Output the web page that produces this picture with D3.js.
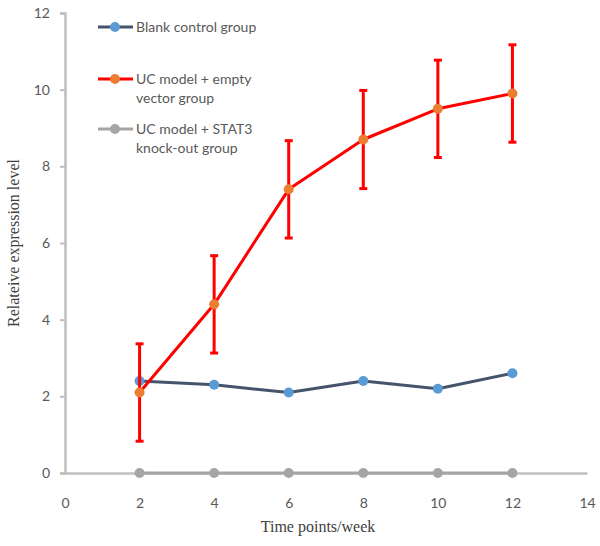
<!DOCTYPE html>
<html><head><meta charset="utf-8">
<script src="https://cdn.jsdelivr.net/npm/d3@7"></script>
<style>body{margin:0;background:#fff}svg{display:block}</style>
</head><body>
<script>
const weeks = [2, 4, 6, 8, 10, 12];
const blankControl = [2.4, 2.3, 2.1, 2.4, 2.2, 2.6];
const ucEmptyVector = [2.1, 4.4, 7.4, 8.7, 9.5, 9.9];
const ucEmptyVectorErr = [1.27, 1.27, 1.27, 1.28, 1.27, 1.27];
const ucStat3Knockout = [0, 0, 0, 0, 0, 0];
const xTicks = [0, 2, 4, 6, 8, 10, 12, 14];
const yTicks = [0, 2, 4, 6, 8, 10, 12];
const seriesNames = ["Blank control group", "UC model + empty vector group", "UC model + STAT3 knock-out group"];

const W = 600, H = 546;
const svg = d3.select("body").append("svg").attr("width", W).attr("height", H);
const x = d3.scaleLinear().domain([0, 14]).range([65, 587]);
const y = d3.scaleLinear().domain([0, 12]).range([473, 13]);

const axisColor = "#BFBFBF", labelColor = "#595959";
const tickFont = "Lato, sans-serif";

// Y axis
const yAx = svg.append("g").attr("transform", `translate(${x(0)},0)`)
  .call(d3.axisLeft(y).tickValues(yTicks).tickSize(5).tickPadding(10));
yAx.select(".domain").attr("stroke", axisColor).attr("stroke-width", 2.5);
yAx.selectAll(".tick line").attr("stroke", axisColor).attr("stroke-width", 2);
yAx.selectAll("text").attr("fill", labelColor).style("font-family", tickFont).style("font-size", "14px");

// X axis
const xAx = svg.append("g").attr("transform", `translate(0,${y(0)})`)
  .call(d3.axisBottom(x).tickValues(xTicks).tickSize(0).tickPadding(25));
xAx.select(".domain").attr("stroke", axisColor).attr("stroke-width", 2.5);
xAx.selectAll("text").attr("fill", labelColor).style("font-family", tickFont).style("font-size", "14px");

// axis titles
svg.append("text").attr("x", 318).attr("y", 532).attr("text-anchor", "middle")
  .style("font-family", "Liberation Serif, serif").style("font-size", "16px").attr("fill", "#404040")
  .text("Time points/week");
svg.append("text").attr("transform", `translate(19,${y(6)}) rotate(-90)`).attr("text-anchor", "middle")
  .style("font-family", "Liberation Serif, serif").style("font-size", "16px").attr("fill", "#404040")
  .text("Relateive expression level");

const line = d3.line().x(d => x(d[0])).y(d => y(d[1]));
const zip = vals => weeks.map((w, i) => [w, vals[i]]);

function drawSeries(vals, lineColor, markerColor) {
  svg.append("path").datum(zip(vals)).attr("d", line).attr("fill", "none")
    .attr("stroke", lineColor).attr("stroke-width", 3).attr("stroke-linejoin", "round");
  svg.append("g").selectAll("circle").data(zip(vals)).join("circle")
    .attr("cx", d => x(d[0])).attr("cy", d => y(d[1])).attr("r", 5).attr("fill", markerColor);
}

// knock-out (gray)
drawSeries(ucStat3Knockout, "#A5A5A5", "#A5A5A5");
// blank control
drawSeries(blankControl, "#44546A", "#5B9BD5");

// error bars for UC model
const eb = svg.append("g").attr("stroke", "#FF0000").attr("stroke-width", 3);
weeks.forEach((w, i) => {
  const v = ucEmptyVector[i], e = ucEmptyVectorErr[i];
  eb.append("line").attr("x1", x(w)).attr("x2", x(w)).attr("y1", y(v + e)).attr("y2", y(v - e));
  eb.append("line").attr("x1", x(w) - 4).attr("x2", x(w) + 4).attr("y1", y(v + e)).attr("y2", y(v + e));
  eb.append("line").attr("x1", x(w) - 4).attr("x2", x(w) + 4).attr("y1", y(v - e)).attr("y2", y(v - e));
});
drawSeries(ucEmptyVector, "#FF0000", "#ED7D31");

// legend
const legend = [
  { lines: ["Blank control group"], lc: "#44546A", mc: "#5B9BD5", y: 27 },
  { lines: ["UC model + empty", "vector group"], lc: "#FF0000", mc: "#ED7D31", y: 79 },
  { lines: ["UC model + STAT3", "knock-out group"], lc: "#A5A5A5", mc: "#A5A5A5", y: 129 }
];
legend.forEach((l, k) => {
  const g = svg.append("g");
  g.append("line").attr("x1", 98).attr("x2", 133).attr("y1", l.y).attr("y2", l.y)
    .attr("stroke", l.lc).attr("stroke-width", 3);
  g.append("circle").attr("cx", 115).attr("cy", l.y).attr("r", 5).attr("fill", l.mc);
  l.lines.forEach((t, j) => {
    g.append("text").attr("x", 136).attr("y", l.y + j * 19 + 5)
      .style("font-family", tickFont).style("font-size", "14px").attr("fill", labelColor)
      .text(t);
  });
});
</script>
</body></html>
